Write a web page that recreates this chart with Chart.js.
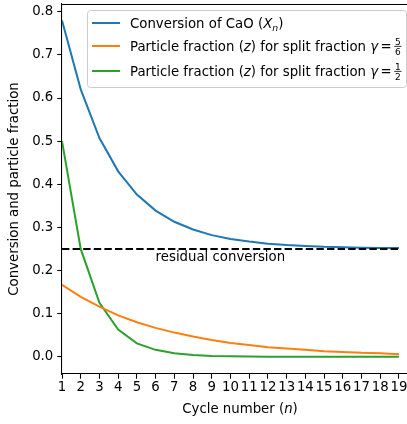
<!DOCTYPE html>
<html>
<head>
<meta charset="utf-8">
<script src="https://cdn.jsdelivr.net/npm/chart.js@4.4.1/dist/chart.umd.min.js"></script>
<style>
html, body { margin: 0; padding: 0; background: #fff; }
#div_canva { width: 407px; height: 424px; }
</style>
</head>
<body>
<div id="div_canva"><canvas id="myChart"></canvas></div>
<script>
// dados
const ciclos = [1, 2, 3, 4, 5, 6, 7, 8, 9, 10, 11, 12, 13, 14, 15, 16, 17, 18, 19];
const conversaoCaO = [0.780, 0.620, 0.507, 0.430, 0.376, 0.339, 0.313, 0.295, 0.282, 0.273, 0.267, 0.262, 0.259, 0.257, 0.255, 0.254, 0.253, 0.252, 0.252];
const fracaoCincoSextos = [0.167, 0.139, 0.116, 0.096, 0.080, 0.067, 0.056, 0.047, 0.039, 0.032, 0.027, 0.022, 0.019, 0.016, 0.013, 0.011, 0.009, 0.008, 0.006];
const fracaoMeio = [0.500, 0.250, 0.125, 0.063, 0.031, 0.016, 0.008, 0.004, 0.002, 0.001, 0.0005, 0.0002, 0.0001, 0.0001, 0, 0, 0, 0, 0];
const conversaoResidual = 0.25;
const yTicks = [0.0, 0.1, 0.2, 0.3, 0.4, 0.5, 0.6, 0.7, 0.8];
const xTicks = ciclos;

const AZUL = '#1f77b4';
const LARANJA = '#ff7f0e';
const VERDE = '#2ca02c';
const FONTE = '"DejaVu Sans"';
const TAM = 13.3;

function pontos(valores) {
    return ciclos.map((c, i) => ({ x: c, y: valores[i] }));
}

// escreve texto com partes em itálico, subscrito e frações
function textoRico(ctx, x, y, partes) {
    ctx.textBaseline = 'alphabetic';
    ctx.textAlign = 'left';
    for (const p of partes) {
        if (p.frac) {
            ctx.font = `9px ${FONTE}`;
            const w = Math.max(ctx.measureText(p.frac[0]).width, ctx.measureText(p.frac[1]).width) + 1.5;
            const barra = y - 4.5;
            ctx.fillText(p.frac[0], x + (w - ctx.measureText(p.frac[0]).width) / 2, barra - 1.5);
            ctx.fillText(p.frac[1], x + (w - ctx.measureText(p.frac[1]).width) / 2, barra + 8.5);
            ctx.fillRect(x, barra - 0.4, w, 0.8);
            x += w;
            continue;
        }
        if (p.gap) { x += p.gap; continue; }
        const tam = p.sub ? 9.3 : TAM;
        ctx.font = `${p.it ? 'italic ' : ''}${tam}px ${FONTE}`;
        ctx.fillText(p.t, x, y + (p.sub ? 3 : 0));
        x += ctx.measureText(p.t).width;
    }
    return x;
}

function larguraRica(ctx, partes) {
    let w = 0;
    for (const p of partes) {
        if (p.frac) { ctx.font = `9px ${FONTE}`; w += ctx.measureText(p.frac[0]).width + 1.5; continue; }
        if (p.gap) { w += p.gap; continue; }
        ctx.font = `${p.it ? 'italic ' : ''}${p.sub ? 9.3 : TAM}px ${FONTE}`;
        w += ctx.measureText(p.t).width;
    }
    return w;
}

const legenda = [
    { cor: AZUL, y: 23, partes: [{ t: 'Conversion of CaO (' }, { t: 'X', it: true }, { t: 'n', it: true, sub: true }, { t: ')' }] },
    { cor: LARANJA, y: 46, partes: [{ t: 'Particle fraction (' }, { t: 'z', it: true }, { t: ') for split fraction ' }, { t: 'γ', it: true }, { gap: 2.5 }, { t: '=' }, { gap: 2.5 }, { frac: ['5', '6'] }] },
    { cor: VERDE, y: 71, partes: [{ t: 'Particle fraction (' }, { t: 'z', it: true }, { t: ') for split fraction ' }, { t: 'γ', it: true }, { gap: 2.5 }, { t: '=' }, { gap: 2.5 }, { frac: ['1', '2'] }] }
];

const extras = {
    id: 'extras',
    afterDraw(chart) {
        const ctx = chart.ctx;
        const area = chart.chartArea;
        const sx = chart.scales.x;
        const sy = chart.scales.y;
        ctx.save();

        // borda superior
        ctx.strokeStyle = '#000';
        ctx.lineWidth = 1.07;
        ctx.beginPath();
        ctx.moveTo(area.left, area.top + 0.5);
        ctx.lineTo(area.right, area.top + 0.5);
        ctx.stroke();

        // texto da linha tracejada
        ctx.fillStyle = '#000';
        ctx.font = `${TAM}px ${FONTE}`;
        ctx.textBaseline = 'middle';
        ctx.textAlign = 'left';
        ctx.fillText('residual conversion', sx.getPixelForValue(6), sy.getPixelForValue(0.231));

        // legenda
        const lx = 87, ly = 10.5, lw = 319, lh = 77;
        ctx.fillStyle = 'rgba(255,255,255,0.8)';
        ctx.strokeStyle = '#cccccc';
        ctx.lineWidth = 1;
        ctx.beginPath();
        ctx.roundRect(lx + 0.5, ly, lw, lh, 3);
        ctx.fill();
        ctx.stroke();
        for (const item of legenda) {
            ctx.strokeStyle = item.cor;
            ctx.lineWidth = 2;
            ctx.beginPath();
            ctx.moveTo(92, item.y);
            ctx.lineTo(120, item.y);
            ctx.stroke();
            ctx.fillStyle = '#000';
            textoRico(ctx, 130, item.y + 4.8, item.partes);
        }

        // título do eixo x
        const tituloX = [{ t: 'Cycle number (' }, { t: 'n', it: true }, { t: ')' }];
        const wx = larguraRica(ctx, tituloX);
        ctx.fillStyle = '#000';
        textoRico(ctx, 240 - wx / 2, 413, tituloX);

        // título do eixo y
        ctx.translate(15, 189);
        ctx.rotate(-Math.PI / 2);
        ctx.font = `${TAM}px ${FONTE}`;
        ctx.textAlign = 'center';
        ctx.textBaseline = 'middle';
        ctx.fillText('Conversion and particle fraction', 0, 0);
        ctx.restore();
    }
};

function semMargem(s) {
    s.paddingTop = 0;
    s.paddingBottom = 0;
    s.paddingLeft = 0;
    s.paddingRight = 0;
}

const ctx = document.getElementById('myChart');

new Chart(ctx, {
    type: 'line',
    data: {
        datasets: [
            {
                label: 'Conversion of CaO',
                data: pontos(conversaoCaO),
                borderColor: AZUL,
                borderWidth: 2,
                pointRadius: 0,
                order: 1
            },
            {
                label: 'Particle fraction 5/6',
                data: pontos(fracaoCincoSextos),
                borderColor: LARANJA,
                borderWidth: 2,
                pointRadius: 0,
                order: 2
            },
            {
                label: 'Particle fraction 1/2',
                data: pontos(fracaoMeio),
                borderColor: VERDE,
                borderWidth: 2,
                pointRadius: 0,
                order: 3
            },
            {
                label: 'residual conversion',
                data: [{ x: ciclos[0], y: conversaoResidual }, { x: ciclos[ciclos.length - 1], y: conversaoResidual }],
                borderColor: '#000',
                borderWidth: 2,
                borderDash: [7.4, 3.2],
                pointRadius: 0,
                order: 0
            }
        ]
    },
    options: {
        responsive: true,
        maintainAspectRatio: false,
        animation: false,
        layout: { padding: { top: 4, right: 0, left: 0, bottom: 0 } },
        scales: {
            x: {
                type: 'linear',
                min: 1,
                max: 19.43,
                afterBuildTicks: s => { s.ticks = xTicks.map(v => ({ value: v })); },
                afterFit: s => { s.height = 50; semMargem(s); },
                ticks: {
                    autoSkip: false,
                    maxRotation: 0,
                    padding: 1,
                    color: '#000',
                    font: { family: 'DejaVu Sans', size: TAM }
                },
                grid: { drawOnChartArea: false, tickLength: 4.7, color: '#000', tickWidth: 1.07 },
                border: { color: '#000', width: 1.07 }
            },
            y: {
                min: -0.04,
                max: 0.818,
                afterBuildTicks: s => { s.ticks = yTicks.map(v => ({ value: v })); },
                afterFit: s => { s.width = 62; semMargem(s); },
                ticks: {
                    padding: 4,
                    color: '#000',
                    font: { family: 'DejaVu Sans', size: TAM },
                    callback: v => v.toFixed(1)
                },
                grid: { drawOnChartArea: false, tickLength: 4.7, color: '#000', tickWidth: 1.07 },
                border: { color: '#000', width: 1.07 }
            }
        },
        plugins: {
            legend: { display: false },
            tooltip: { enabled: false }
        }
    },
    plugins: [extras]
});
</script>
</body>
</html>
